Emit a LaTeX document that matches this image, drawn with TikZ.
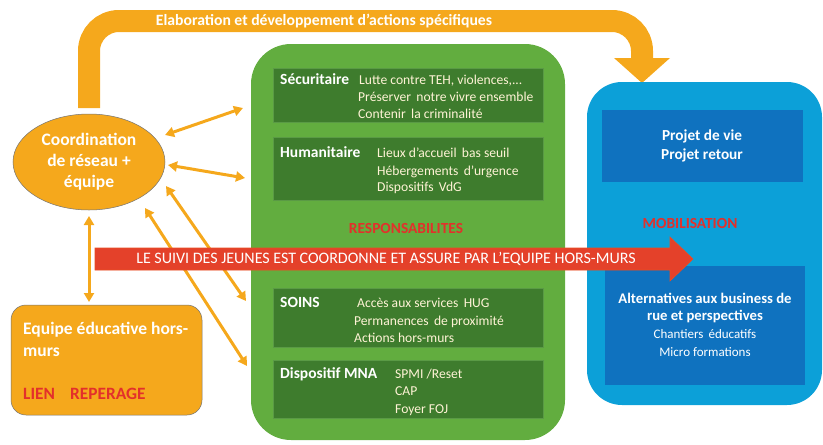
\documentclass[tikz,border=0pt]{standalone}
\usepackage{fontspec}
\setmainfont{Carlito}
\usetikzlibrary{shapes.geometric,arrows.meta}
\definecolor{org}{HTML}{F5A81C}
\definecolor{grn}{HTML}{62AD3F}
\definecolor{dgrn}{HTML}{3E7C2D}
\definecolor{dgrnb}{HTML}{5A9A45}
\definecolor{red1}{HTML}{E4412A}
\definecolor{redtxt}{HTML}{E3302B}
\definecolor{lblue}{HTML}{0CA0D8}
\definecolor{dblue}{HTML}{0F72BF}
\definecolor{pale}{HTML}{FFF3D6}
\tikzset{
  box/.style={inner sep=0pt, outer sep=0pt, anchor=north west},
  inbox/.style={box, fill=dgrn, draw=dgrnb, line width=0.8pt},
  head/.style={anchor=base west, inner sep=0pt, text=white, font=\fontsize{15.5}{17}\selectfont\bfseries},
  item/.style={anchor=base west, inner sep=0pt, text=pale, font=\fontsize{13.6}{16}\selectfont},
  dbl/.style={org, line width=3pt, {Triangle[length=9pt,width=10pt]}-{Triangle[length=9pt,width=10pt]}},
  redlab/.style={inner sep=0pt, text=redtxt, font=\fontsize{15.4}{17}\selectfont\bfseries},
}
\begin{document}
\begin{tikzpicture}[x=1pt,y=-1pt]
\useasboundingbox (0,0) rectangle (823,445);
% big orange arrow
\coordinate (bigstart) at (89,108);
\coordinate (bigend) at (642,60);
\draw[org, line width=22pt, rounded corners=30pt] (bigstart) -- (89,21) -- (642,21) -- (bigend);
\fill[org] (614,58) -- (670,58) -- (642,83) -- cycle;
\node[inner sep=0pt, text=white, font=\fontsize{15.7}{17}\selectfont\bfseries] (elab) at (324,21) {Elaboration et développement d’actions spécifiques};

% green block
\node[box, fill=grn, rounded corners=40pt, minimum width=314pt, minimum height=396pt] (resp) at (251,44) {};
\node[inbox, minimum width=270pt, minimum height=54pt] (secu) at (273,68) {};
\node[inbox, minimum width=270pt, minimum height=63pt] (huma) at (273,137) {};
\node[inbox, minimum width=270pt, minimum height=59pt] (soins) at (273,288) {};
\node[inbox, minimum width=270pt, minimum height=58pt] (mna) at (273,360) {};

\node[head] (h1) at (280,84) {Sécuritaire};
\node[item] (s1) at (359,84) {Lutte contre TEH, violences,...};
\node[item] (s2) at (358,101) {Préserver\, notre vivre ensemble};
\node[item] (s3) at (358,118) {Contenir\, la criminalité};

\node[head] (h2) at (280,157) {Humanitaire};
\node[item] (u1) at (377,157) {Lieux d’accueil\, bas seuil};
\node[item] (u2) at (377,175) {Hébergements\, d’urgence};
\node[item] (u3) at (377,191) {Dispositifs\, VdG};

\node[redlab] (respo) at (406,228) {RESPONSABILITES};

\node[head] (h3) at (280,307) {SOINS};
\node[item] (o1) at (357,307) {Accès aux services\, HUG};
\node[item] (o2) at (354,325) {Permanences\, de proximité};
\node[item] (o3) at (354,342) {Actions hors-murs};

\node[head] (h4) at (280,378) {Dispositif MNA};
\node[item] (m1) at (395,378) {SPMI /Reset};
\node[item] (m2) at (395,395) {CAP};
\node[item] (m3) at (395,413) {Foyer FOJ};

% blue block
\node[box, fill=lblue, rounded corners=35pt, minimum width=235pt, minimum height=323pt] (mobil) at (587,82) {};
\node[box, fill=dblue, minimum width=201pt, minimum height=72pt] (projet) at (602,110) {};
\node[inner sep=0pt, text=white, align=center, font=\fontsize{15.3}{19}\selectfont\bfseries] (projtxt) at (702,146) {Projet de vie\\Projet retour};
\node[redlab] (mobtxt) at (690,223) {MOBILISATION};
\node[box, fill=dblue, minimum width=200pt, minimum height=119pt] (alt) at (605,266) {};
\node[inner sep=0pt, text=white, align=center, font=\fontsize{14.7}{17.5}\selectfont\bfseries] (alt1) at (705,308) {Alternatives aux business de\\rue et perspectives};
\node[inner sep=0pt, text=white, align=center, font=\fontsize{13}{17.5}\selectfont] (alt2) at (705,343) {Chantiers\, éducatifs\\Micro formations};

% left nodes
\node[ellipse, fill=org, draw=black!55, line width=0.5pt, minimum width=152pt, minimum height=96pt, inner sep=0pt] (coord) at (89,162) {};
\node[inner sep=0pt, text=white, align=center, font=\fontsize{17.5}{21}\selectfont\bfseries] (coordtxt) at (89,162) {Coordination\\de réseau +\\équipe};

\node[box, fill=org, draw=black!55, line width=0.5pt, rounded corners=15pt, minimum width=191pt, minimum height=110pt] (equipe) at (11,305) {};
\node[anchor=base west, inner sep=0pt, text=white, font=\fontsize{17.5}{22}\selectfont\bfseries] (eqtxt) at (23,334) {Equipe éducative hors-};
\node[anchor=base west, inner sep=0pt, text=white, font=\fontsize{17.5}{22}\selectfont\bfseries] (eqtxt2) at (23,356) {murs};
\node[anchor=base west, inner sep=0pt, text=redtxt, font=\fontsize{17.3}{18}\selectfont\bfseries] (lien) at (23,399) {LIEN};
\node[anchor=base west, inner sep=0pt, text=redtxt, font=\fontsize{17.3}{18}\selectfont\bfseries] (reper) at (70,399) {REPERAGE};

% double arrows
\coordinate (c1) at (165,135); \coordinate (g1) at (243,108);
\coordinate (c2) at (168,165); \coordinate (g2) at (245,178);
\coordinate (c3) at (166,186); \coordinate (g3) at (246,301);
\coordinate (c4) at (145,208); \coordinate (g4) at (247,366);
\coordinate (cv) at (89,216);  \coordinate (ev) at (89,302);
\draw[dbl] (c1) -- (g1);
\draw[dbl] (c2) -- (g2);
\draw[dbl] (c3) -- (g3);
\draw[dbl] (c4) -- (g4);
\draw[dbl] (cv) -- (ev);

% red arrow
\fill[red1, draw=red1!80!orange, line width=0.6pt] (95,248) -- (670,248) -- (670,237) -- (693,259) -- (670,281) -- (670,270) -- (95,270) -- cycle;
\node[inner sep=0pt, text=white, font=\fontsize{16}{18}\selectfont] (suivi) at (386,259) {LE SUIVI DES JEUNES EST COORDONNE ET ASSURE PAR L’EQUIPE HORS-MURS};
\end{tikzpicture}
\end{document}
